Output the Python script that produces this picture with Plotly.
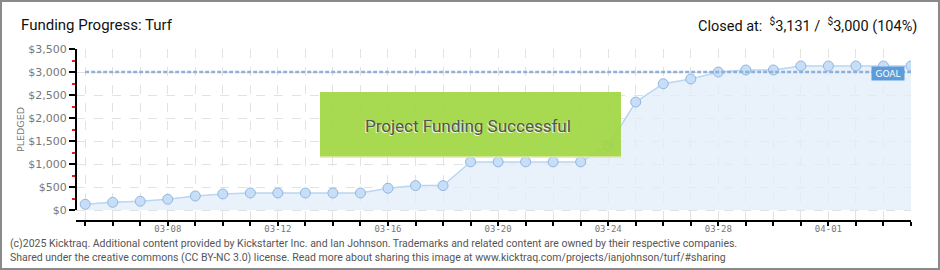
import plotly.graph_objects as go

# ---- data ----
dates = ["2025-03-05", "2025-03-06", "2025-03-07", "2025-03-08", "2025-03-09", "2025-03-10",
         "2025-03-11", "2025-03-12", "2025-03-13", "2025-03-14", "2025-03-15", "2025-03-16",
         "2025-03-17", "2025-03-18", "2025-03-19", "2025-03-20", "2025-03-21", "2025-03-22",
         "2025-03-23", "2025-03-24", "2025-03-25", "2025-03-26", "2025-03-27", "2025-03-28",
         "2025-03-29", "2025-03-30", "2025-03-31", "2025-04-01", "2025-04-02", "2025-04-03",
         "2025-04-04"]
pledged = [124, 168, 190, 233, 305, 349, 370, 370, 370, 370, 370, 473,
           530, 530, 1046, 1046, 1046, 1046, 1046, 1395, 2347, 2745, 2848, 3000,
           3044, 3044, 3131, 3131, 3131, 3131, 3131]
goal = 3000
y_ticks = [0, 500, 1000, 1500, 2000, 2500, 3000, 3500]
y_tick_labels = ["$0", "$500", "$1,000", "$1,500", "$2,000", "$2,500", "$3,000", "$3,500"]

title_text = "Funding Progress: Turf"
closed_text = "Closed at:  <sup>$</sup>3,131 /  <sup>$</sup>3,000 (104%)"
banner_text = "Project Funding Successful"
footer_lines = [
    "(c)2025 Kicktraq. Additional content provided by Kickstarter Inc. and Ian Johnson. Trademarks and related content are owned by their respective companies.",
    "Shared under the creative commons (CC BY-NC 3.0) license. Read more about sharing this image at www.kicktraq.com/projects/ianjohnson/turf/#sharing",
]

# ---- geometry (pixels) ----
W, H = 940, 270
ML, MR, MT, MB = 76, 29, 49, 50
PW, PH = W - ML - MR, H - MT - MB
Y_TOP = 3500
Y_BOTTOM = -Y_TOP * 10 / (PH - 10)   # axis line sits 10px below the $0 level


def px(x):
    return (x - ML) / PW


def py(y):
    return (H - MB - y) / PH


FONT = "Roboto, Liberation Sans, sans-serif"

fig = go.Figure()

fig.add_trace(go.Scatter(
    x=dates, y=pledged, mode="lines+markers",
    line=dict(color="#b9d6f2", width=1.5),
    fill="tozeroy", fillcolor="rgba(226,237,250,0.75)",
    marker=dict(size=10, color="#c6def7", line=dict(color="#93b7de", width=1)),
    hoverinfo="x+y", showlegend=False,
))

fig.add_trace(go.Scatter(
    x=[dates[0], dates[-1]], y=[goal, goal], mode="lines",
    line=dict(color="#8fb1d9", width=2.5, dash="4px,2px"),
    hoverinfo="skip", showlegend=False,
))

fig.update_layout(
    width=W, height=H,
    margin=dict(l=ML, r=MR, t=MT, b=MB),
    paper_bgcolor="white", plot_bgcolor="white",
    font=dict(family=FONT, color="#666"),
    xaxis=dict(
        type="date",
        range=["2025-03-04 16:00", "2025-04-04 00:00"],
        tick0="2025-03-08", dtick=4 * 86400000, tickformat="%m-%d",
        showline=True, linecolor="black", linewidth=2,
        ticks="outside", ticklen=4, tickcolor="black", tickwidth=1.5,
        ticklabelstandoff=-5,
        tickfont=dict(size=9, color="#777", family="DejaVu Sans Mono, monospace"),
        showgrid=True, gridcolor="#e2e2e2", griddash="dash", gridwidth=1,
        minor=dict(dtick=86400000, ticks="outside", ticklen=4, tickcolor="black",
                   tickwidth=1.5, showgrid=True, gridcolor="#e2e2e2", griddash="dash"),
        zeroline=False, fixedrange=True,
    ),
    yaxis=dict(
        range=[Y_BOTTOM, Y_TOP],
        tickmode="array", tickvals=y_ticks, ticktext=y_tick_labels,
        showline=False,
        ticks="outside", ticklen=6, tickcolor="black", tickwidth=1.5,
        tickfont=dict(size=11, color="#777", family="DejaVu Sans, sans-serif"),
        showgrid=True, gridcolor="#e2e2e2", griddash="dash", gridwidth=1,
        minor=dict(tickmode="linear", tick0=250, dtick=500, ticks="outside", ticklen=3,
                   tickcolor="#e02020", tickwidth=1.5, showgrid=False),
        zeroline=False, fixedrange=True,
    ),
)

shapes = [
    # y axis line (stops at the $0 level)
    dict(type="line", xref="paper", yref="y", x0=0, x1=0, y0=0, y1=Y_TOP,
         line=dict(color="black", width=2), layer="above"),
    # success banner
    dict(type="rect", xref="paper", yref="paper",
         x0=px(320), x1=px(621), y0=py(157), y1=py(92),
         fillcolor="rgba(160,214,66,0.92)", line=dict(width=0), layer="above"),
    dict(type="line", xref="paper", yref="paper",
         x0=px(320), x1=px(621), y0=py(157), y1=py(157),
         line=dict(color="#dfe8a8", width=1.5), layer="above"),
    # outer frame
    dict(type="rect", xref="paper", yref="paper",
         x0=px(1), x1=px(939), y0=py(269), y1=py(1),
         line=dict(color="#8a8a8a", width=2), fillcolor="rgba(0,0,0,0)", layer="above"),
]
fig.update_layout(shapes=shapes)

annotations = [
    dict(text=title_text, xref="paper", yref="paper", x=px(19), y=py(25),
         xanchor="left", yanchor="middle", showarrow=False,
         font=dict(size=15, color="#111", family=FONT)),
    dict(text=closed_text, xref="paper", yref="paper", x=px(919), y=py(25),
         xanchor="right", yanchor="middle", showarrow=False,
         font=dict(size=14.5, color="#111", family=FONT)),
    dict(text="PLEDGED", xref="paper", yref="paper", x=px(20), y=py(130),
         xanchor="center", yanchor="middle", showarrow=False, textangle=-90,
         font=dict(size=9.5, color="#777", family="DejaVu Sans")),
    dict(text=banner_text, xref="paper", yref="paper", x=px(468), y=py(126),
         xanchor="center", yanchor="middle", showarrow=False,
         font=dict(size=17, color="#555", family=FONT, shadow="-1px 1px 0px #eef7dc")),
    # goal label
    dict(text="GOAL", xref="paper", yref="paper", x=px(888), y=py(73.5),
         xanchor="center", yanchor="middle", showarrow=False,
         bgcolor="#5d9bd9", borderpad=1, width=30, height=11,
         font=dict(size=9, color="white", family="DejaVu Sans")),
    dict(text=footer_lines[0], xref="paper", yref="paper", x=px(8), y=py(243),
         xanchor="left", yanchor="middle", showarrow=False,
         font=dict(size=10.5, color="#555", family=FONT)),
    dict(text=footer_lines[1], xref="paper", yref="paper", x=px(8), y=py(257),
         xanchor="left", yanchor="middle", showarrow=False,
         font=dict(size=10.5, color="#555", family=FONT)),
]
fig.update_layout(annotations=annotations)

fig.write_html("out.html", include_plotlyjs=True, config={"displayModeBar": False})
